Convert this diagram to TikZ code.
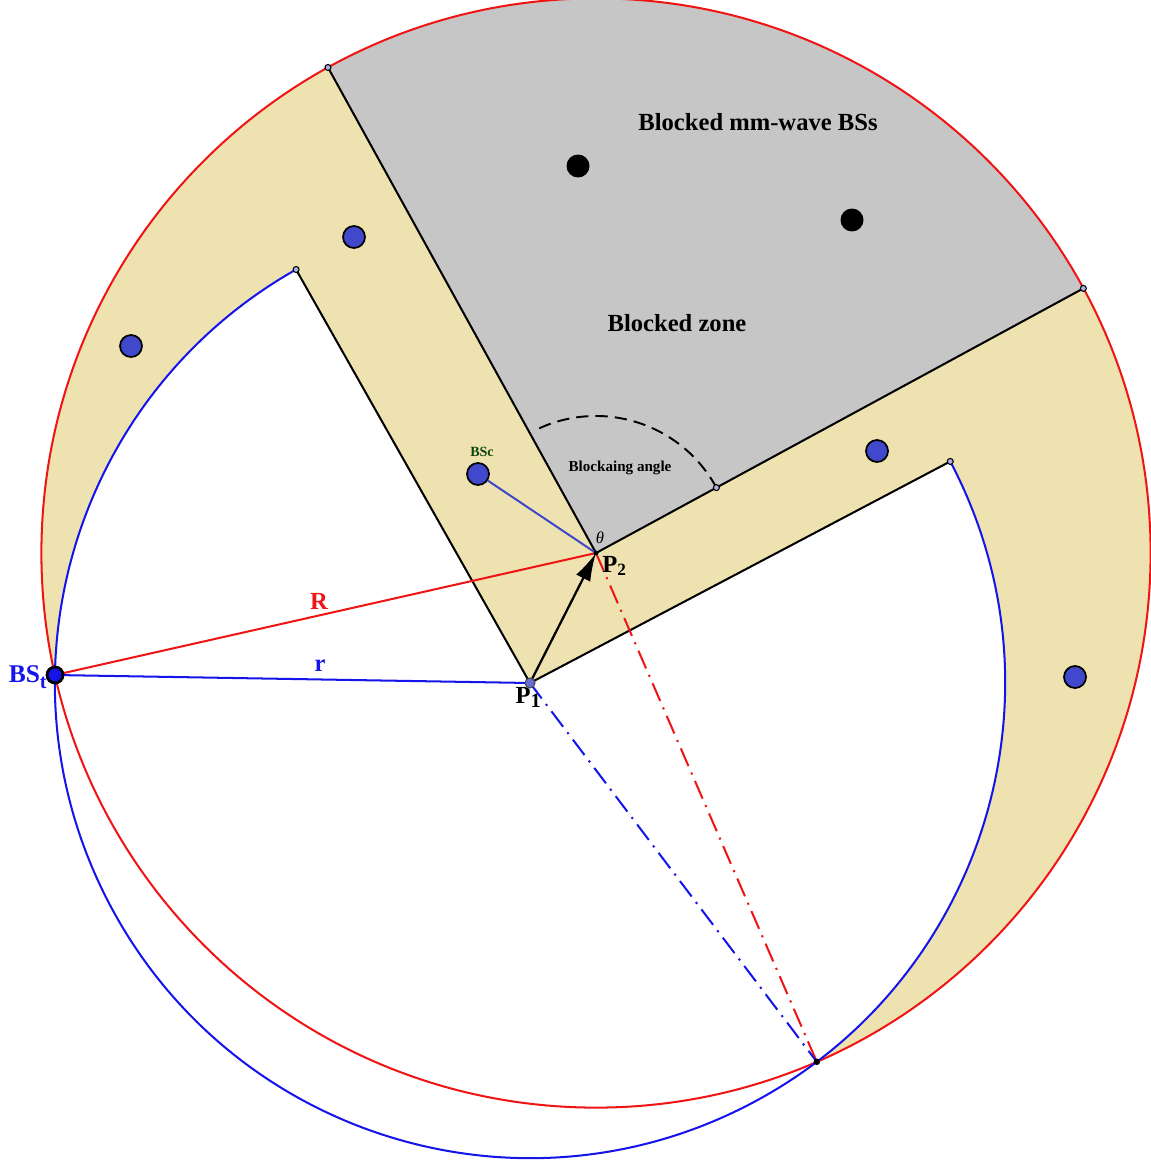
\documentclass[tikz,border=0pt]{standalone}
\usepackage{fontspec}
\setmainfont{Liberation Serif}
\usetikzlibrary{arrows.meta,calc}
\definecolor{tanz}{RGB}{237,226,176}
\definecolor{greyz}{RGB}{198,198,198}
\definecolor{bsblue}{RGB}{66,72,204}
\definecolor{redc}{RGB}{240,20,20}
\definecolor{bluec}{RGB}{20,20,235}
\definecolor{dgreen}{RGB}{15,70,15}
\def\bigR{554.6}
\def\smallr{475.1}
\tikzset{
  circ/.style={line width=1.15pt},
  edge/.style={line width=1.15pt, black},
  bs/.style={circle, fill=bsblue, draw=black, line width=1pt, minimum size=0.44cm, inner sep=0pt},
  blk/.style={circle, fill=black, minimum size=0.46cm, inner sep=0pt},
  pt/.style={circle, fill=bsblue!45!white, draw=black, line width=0.6pt, minimum size=0.12cm, inner sep=0pt},
  dashdotline/.style={line width=1.15pt, dash pattern=on 11pt off 4pt on 1.2pt off 4pt},
  lbl/.style={font=\bfseries\fontsize{14}{16}\selectfont, inner sep=0pt},
}
\begin{document}
\begin{tikzpicture}[x=0.02cm,y=-0.02cm]
\useasboundingbox (0,0) rectangle (1150,1162);
\coordinate (P1) at (530,683);
\coordinate (P2) at (596,553);
\coordinate (BSt) at (55,675);
\coordinate (A) at ($(P2)+(-118.9:\bigR)$);
\coordinate (B) at ($(P2)+(-28.5:\bigR)$);
\coordinate (C) at ($(P1)+(-119.5:\smallr)$);
\coordinate (D) at ($(P1)+(-27.8:\smallr)$);
\coordinate (E) at ($(P2)+(-28.5:137)$);
\coordinate (X) at (816.8,1061.8);

% fills
\fill[tanz] (P2) circle[radius=\bigR];
\fill[white] (P1) -- (D) arc[start angle=-27.8, end angle=240.5, radius=\smallr] -- cycle;
\fill[greyz] (P2) -- (A) arc[start angle=-118.9, end angle=-28.5, radius=\bigR] -- cycle;

% circles
\draw[circ, redc] (P2) circle[radius=\bigR];
\draw[circ, bluec] (D) arc[start angle=-27.8, end angle=240.5, radius=\smallr];

% wedge edges
\draw[edge] (P2) -- (A);
\draw[edge] (P2) -- (B);
\draw[edge] (P1) -- (C);
\draw[edge] (P1) -- (D);

% dashed blocking angle arc
\draw[line width=1.1pt, dash pattern=on 7pt off 4pt] (E) arc[start angle=-28.5, end angle=-116, radius=137];

% radii
\draw[circ, redc] (BSt) -- (P2);
\draw[circ, bluec] (BSt) -- (P1);

% dash-dot lines
\draw[dashdotline, redc] (P2) -- (X);
\draw[dashdotline, bluec] (P1) -- (X);

% BSc
\node[bs] (BSc) at (478,474) {};
\draw[line width=1.15pt, bsblue] (BSc) -- (P2);

% arrow P1 -> P2
\draw[line width=1.3pt, -{Latex[length=16pt,width=9pt]}] (P1) -- (P2);

% other BSs
\node[bs] (b1) at (354,237) {};
\node[bs] (b2) at (131,346) {};
\node[bs] (b3) at (877,451) {};
\node[bs] (b4) at (1075,677) {};
\node[blk] (k1) at (578,166) {};
\node[blk] (k2) at (852,220) {};

% small points
\node[pt] (pA) at (A) {};
\node[pt] (pB) at (B) {};
\node[pt] (pC) at (C) {};
\node[pt] (pD) at (D) {};
\node[pt] (pE) at (E) {};
\node[circle, fill=black, minimum size=0.13cm, inner sep=0pt] (pX) at (X) {};
\node[circle, fill=black, minimum size=0.1cm, inner sep=0pt] (pP2) at (P2) {};
\node[circle, fill=bsblue!80!white, draw=black!70, line width=0.6pt, minimum size=0.2cm, inner sep=0pt] (pP1) at (P1) {};
\node[circle, fill=bluec, draw=black, line width=1.6pt, minimum size=0.32cm, inner sep=0pt] (pBSt) at (BSt) {};

% labels
\node[lbl] (t1) at (758,122) {Blocked mm-wave BSs};
\node[lbl] (t2) at (677,323) {Blocked zone};
\node[font=\bfseries\fontsize{8.6}{10}\selectfont, inner sep=0pt] (t3) at (620,468) {Blockaing angle};
\node[font=\bfseries\fontsize{8}{9}\selectfont, text=dgreen, inner sep=0pt] (t4) at (482,452) {BSc};
\node[font=\itshape\fontsize{9.5}{10}\selectfont, inner sep=0pt] (t5) at (600,538) {θ};
\node[lbl, anchor=west] (t6) at (602,566) {P\textsubscript{\bfseries 2}};
\node[lbl, anchor=east] (t7) at (541,697) {P\raisebox{-0.35ex}{\fontsize{11.5}{12}\selectfont 1}};
\node[lbl, text=redc] (t8) at (319,601) {R};
\node[lbl, text=bluec] (t9) at (320,666) {r};
\node[font=\bfseries\fontsize{14.5}{16}\selectfont, text=bluec, inner sep=0pt, anchor=east] (t10) at (47,677) {BS\raisebox{-0.5ex}{\fontsize{11.5}{12}\selectfont t}};
\end{tikzpicture}
\end{document}
